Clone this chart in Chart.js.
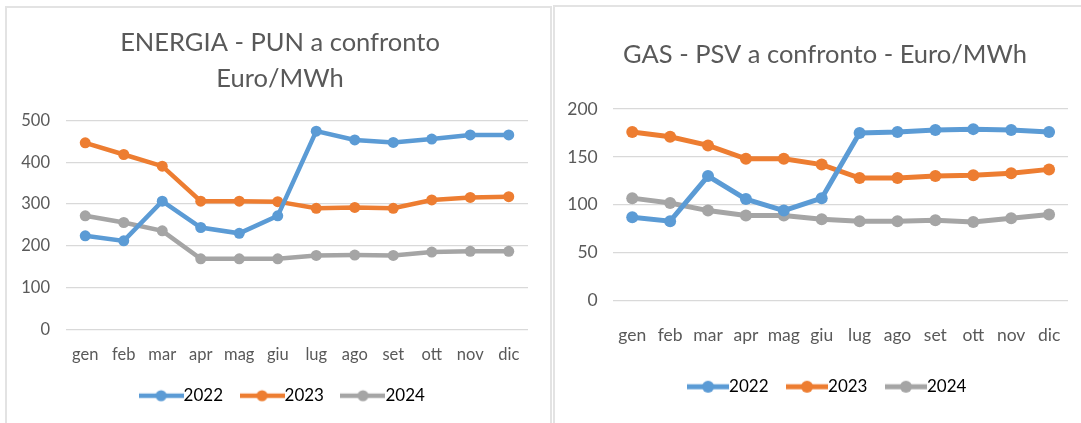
<!DOCTYPE html>
<html>
<head>
<meta charset="utf-8">
<script src="https://cdn.jsdelivr.net/npm/chart.js@4.4.1/dist/chart.umd.min.js"></script>
<style>
  html, body { margin: 0; padding: 0; background: #fff; width: 1081px; height: 423px; overflow: hidden; }
  .pannello { position: absolute; border: 2px solid #e3e3e3; border-bottom: none; box-sizing: border-box; }
  .box { position: absolute; }
</style>
</head>
<body>
<div class="pannello" style="left:5px; top:6px; width:547px; height:430px"></div>
<div class="pannello" style="left:553px; top:5px; width:560px; height:430px"></div>
<div class="box" style="left:7px; top:8px; width:543px; height:415px"><canvas id="graficoPun"></canvas></div>
<div class="box" style="left:556px; top:8px; width:540px; height:415px"><canvas id="graficoPsv"></canvas></div>

<script>
// --- Dati ---
const mesi = ['gen', 'feb', 'mar', 'apr', 'mag', 'giu', 'lug', 'ago', 'set', 'ott', 'nov', 'dic'];
const anni = ['2022', '2023', '2024'];
const colori = ['#5B9BD5', '#ED7D31', '#A5A5A5'];

const pun2022 = [224, 212, 307, 244, 230, 272, 475, 454, 448, 456, 466, 466];
const pun2023 = [447, 419, 391, 307, 307, 306, 290, 292, 290, 310, 316, 318];
const pun2024 = [272, 256, 236, 169, 169, 169, 177, 178, 177, 185, 187, 187];

const psv2022 = [87, 83, 130, 106, 94, 107, 175, 176, 178, 179, 178, 176];
const psv2023 = [176, 171, 162, 148, 148, 142, 128, 128, 130, 131, 133, 137];
const psv2024 = [107, 102, 94, 89, 89, 85, 83, 83, 84, 82, 86, 90];

const punTicks = [0, 100, 200, 300, 400, 500];
const psvTicks = [0, 50, 100, 150, 200];

Chart.defaults.font.family = 'Lato, "Open Sans", sans-serif';
Chart.defaults.color = '#595959';

// icona legenda: linea con pallino come in Excel
function iconaLegenda(colore, w, lw, r) {
    const c = document.createElement('canvas');
    c.width = w; c.height = 16;
    const g = c.getContext('2d');
    g.strokeStyle = colore; g.lineWidth = lw;
    g.beginPath(); g.moveTo(0, 8); g.lineTo(w, 8); g.stroke();
    g.fillStyle = colore;
    g.beginPath(); g.arc(w / 2, 8, r, 0, Math.PI * 2); g.fill();
    return c;
}

// sposta un po' la legenda a destra, come nell'originale
const spostaLegenda = {
    id: 'spostaLegenda',
    afterLayout(chart, args, opts) {
        chart.legend.left += opts.dx;
        chart.legend.right += opts.dx;
    }
};

function creaGrafico(id, serie, ticks, o) {
    const icone = colori.map(c => iconaLegenda(c, o.iconaW, o.lw, o.r));
    new Chart(document.getElementById(id), {
        type: 'line',
        data: {
            labels: mesi,
            datasets: serie.map((s, i) => ({
                label: anni[i],
                data: s,
                borderColor: colori[i],
                backgroundColor: colori[i],
                borderWidth: o.lw,
                pointRadius: o.r,
                pointBorderWidth: 0,
                tension: 0
            }))
        },
        plugins: [spostaLegenda],
        options: {
            responsive: true,
            maintainAspectRatio: false,
            animation: false,
            layout: { padding: o.padding },
            plugins: {
                tooltip: { enabled: false },
                spostaLegenda: { dx: 6 },
                title: {
                    display: true,
                    text: o.titolo,
                    color: '#595959',
                    font: { size: o.titoloSize, weight: 'normal', lineHeight: o.titoloLh },
                    padding: o.titoloPad
                },
                legend: {
                    position: 'bottom',
                    labels: {
                        usePointStyle: true,
                        pointStyleWidth: o.iconaW - o.legFs,
                        padding: o.legPad,
                        color: '#595959',
                        font: { size: o.legFs },
                        generateLabels: chart => chart.data.datasets.map((ds, i) => ({
                            text: ds.label,
                            fillStyle: ds.borderColor,
                            strokeStyle: ds.borderColor,
                            lineWidth: 0,
                            pointStyle: icone[i],
                            hidden: false,
                            datasetIndex: i
                        }))
                    }
                }
            },
            scales: {
                x: {
                    offset: true,
                    grid: { display: false, drawTicks: false },
                    border: { display: false },
                    // mirror + padding negativo: etichette sotto l'asse senza ritaglio
                    ticks: {
                        mirror: true, padding: o.xPad, maxRotation: 0, minRotation: 0, autoSkip: false,
                        font: { size: o.fs }, color: '#595959'
                    },
                    afterFit: s => { s.height = o.xH; }
                },
                y: {
                    min: ticks[0],
                    max: ticks[ticks.length - 1],
                    grid: { color: '#d9d9d9', lineWidth: 1.3, drawTicks: false },
                    border: { display: false },
                    ticks: { padding: o.yPad, font: { size: o.fs }, color: '#595959' },
                    afterBuildTicks: s => { s.ticks = ticks.map(v => ({ value: v })); },
                    afterFit: s => { s.width = o.yW; }
                },
                // asse vuoto a destra, solo spazio (titolo e legenda restano centrati sul riquadro)
                spazio: {
                    position: 'right',
                    grid: { display: false },
                    border: { display: false },
                    ticks: { display: false },
                    afterFit: s => { s.width = o.dx; }
                }
            }
        }
    });
}

creaGrafico('graficoPun', [pun2022, pun2023, pun2024], punTicks, {
    titolo: ['ENERGIA - PUN a confronto', 'Euro/MWh'],
    titoloSize: 25.5, titoloLh: 1.412, titoloPad: { top: 17, bottom: 23.7 },
    padding: { left: 7, right: 4, top: 0, bottom: 8.8 },
    yW: 52, yPad: 16, xH: 32.9, xPad: -35.6, dx: 18, fs: 16.5,
    legFs: 17, legPad: 25, iconaW: 45, lw: 4.5, r: 5.5
});

creaGrafico('graficoPsv', [psv2022, psv2023, psv2024], psvTicks, {
    titolo: 'GAS - PSV a confronto - Euro/MWh',
    titoloSize: 25.5, titoloLh: 1.2, titoloPad: { top: 31.7, bottom: 38.7 },
    padding: { left: 10, right: 12, top: 0, bottom: 17.8 },
    yW: 47.3, yPad: 15.6, xH: 51.5, xPad: -44.8, dx: 16, fs: 17.5,
    legFs: 17, legPad: 26, iconaW: 42, lw: 5, r: 6
});
</script>
</body>
</html>
